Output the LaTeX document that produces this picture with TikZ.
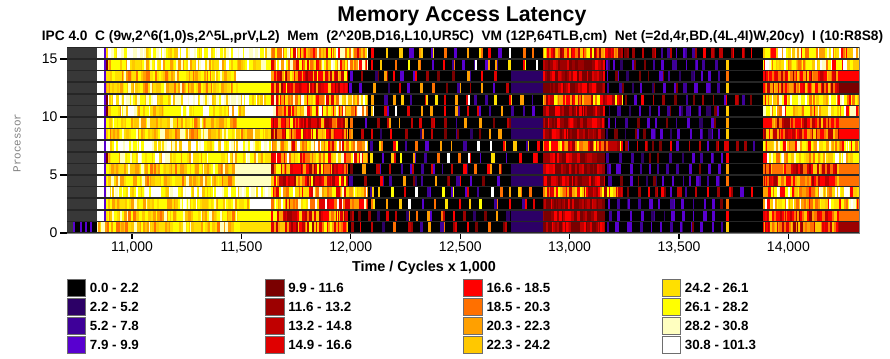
\documentclass[tikz,border=0pt]{standalone}
\usepackage{fontspec}
\setmainfont{Liberation Sans}
\newfontfamily\procfont{Liberation Mono}
\usetikzlibrary{positioning}

% latency colour scale
\definecolor{lat1}{HTML}{000000}
\definecolor{lat2}{HTML}{2C0066}
\definecolor{lat3}{HTML}{3E0099}
\definecolor{lat4}{HTML}{5800D0}
\definecolor{lat5}{HTML}{7A0000}
\definecolor{lat6}{HTML}{9C0000}
\definecolor{lat7}{HTML}{C00000}
\definecolor{lat8}{HTML}{E00000}
\definecolor{lat9}{HTML}{FF0000}
\definecolor{lat10}{HTML}{FF7000}
\definecolor{lat11}{HTML}{FFA000}
\definecolor{lat12}{HTML}{FFC800}
\definecolor{lat13}{HTML}{FFE000}
\definecolor{lat14}{HTML}{FFFF00}
\definecolor{lat15}{HTML}{FFFFC0}
\definecolor{lat16}{HTML}{FFFFFF}
\definecolor{gblock}{HTML}{383838}
\definecolor{sepgray}{HTML}{262626}
\definecolor{axisgray}{HTML}{7F7F7F}
\definecolor{keyedge}{HTML}{6E6E6E}

\pgfmathdeclarerandomlist{lightY}{{lat16}{lat16}{lat16}{lat15}{lat15}{lat14}{lat14}{lat13}{lat12}}
\pgfmathdeclarerandomlist{midY}{{lat16}{lat15}{lat14}{lat14}{lat14}{lat13}{lat13}{lat12}{lat11}}
\pgfmathdeclarerandomlist{satY}{{lat14}{lat14}{lat13}{lat13}{lat12}{lat12}{lat11}{lat11}{lat15}{lat10}}
\pgfmathdeclarerandomlist{yelMix}{{lat14}{lat13}{lat12}{lat11}{lat10}{lat10}{lat9}{lat16}{lat15}{lat8}}
\pgfmathdeclarerandomlist{redMix}{{lat9}{lat9}{lat8}{lat8}{lat7}{lat6}{lat10}{lat11}{lat12}{lat14}}
\pgfmathdeclarerandomlist{hotMix}{{lat9}{lat9}{lat8}{lat7}{lat10}{lat11}{lat6}{lat14}{lat12}}
\pgfmathdeclarerandomlist{darkMix}{{lat5}{lat5}{lat5}{lat6}{lat6}{lat7}{lat8}{lat9}}
\pgfmathdeclarerandomlist{barY}{{lat10}{lat11}{lat12}{lat14}{lat16}{lat3}{lat4}{lat9}{lat8}{lat13}}
\pgfmathdeclarerandomlist{barR}{{lat9}{lat8}{lat7}{lat6}{lat5}{lat3}{lat4}{lat10}{lat11}{lat2}}
\pgfmathdeclarerandomlist{barHot}{{lat5}{lat6}{lat7}{lat8}{lat9}{lat3}{lat4}{lat6}}
\pgfmathdeclarerandomlist{barCool}{{lat3}{lat4}{lat4}{lat4}{lat2}{lat3}{lat5}}
\pgfmathdeclarerandomlist{endHot}{{lat10}{lat11}{lat9}{lat12}}
\pgfmathdeclarerandomlist{lateY}{{lat14}{lat14}{lat13}{lat12}{lat11}{lat10}{lat16}{lat15}{lat9}}
\pgfmathdeclarerandomlist{lateR}{{lat9}{lat9}{lat8}{lat7}{lat10}{lat10}{lat11}{lat12}{lat6}}

% one processor row: solid piece, random stripes, black with bars
\newcommand\rowsolid[4]{%
  \pgfmathsetmacro\bandtop{233-(#1+1)*11.6+0.8}%
  \pgfmathsetmacro\bandbot{233-#1*11.6-0.8}%
  \fill[#4] (#2,\bandtop) rectangle (#3,\bandbot);}
\newcommand\rowband[4]{%
  \pgfmathsetmacro\bandtop{233-(#1+1)*11.6+0.8}%
  \pgfmathsetmacro\bandbot{233-#1*11.6-0.8}%
  \pgfmathsetmacro\bandx{#2}%
  \loop
    \pgfmathrandomitem\bandc{#4}%
    \pgfmathsetmacro\bandw{min(0.7+2.3*rnd,#3-\bandx)}%
    \fill[\bandc] (\bandx,\bandtop) rectangle ({\bandx+\bandw+0.25},\bandbot);
    \pgfmathsetmacro\bandx{\bandx+\bandw}%
  \ifdim\dimexpr\bandx pt+0.05pt<#3pt\repeat}
\newcommand\rowbars[5]{%
  \pgfmathsetmacro\bandtop{233-(#1+1)*11.6+0.8}%
  \pgfmathsetmacro\bandbot{233-#1*11.6-0.8}%
  \fill[black] (#2,\bandtop) rectangle (#3,\bandbot);
  \pgfmathsetmacro\bandx{#2+1+3*rnd}%
  \loop
    \pgfmathrandomitem\bandc{#4}%
    \pgfmathsetmacro\bandw{1.5+2*rnd}%
    \fill[\bandc] (\bandx,\bandtop) rectangle ({min(\bandx+\bandw,#3)},\bandbot);
    \pgfmathsetmacro\bandp{rnd}%
    \ifdim\bandp pt<0.3pt
      \pgfmathrandomitem\bandd{#4}%
      \fill[\bandd] ({min(\bandx+\bandw,#3)},\bandtop) rectangle ({min(\bandx+\bandw+1.5,#3)},\bandbot);
    \fi
    \pgfmathsetmacro\bandx{\bandx+\bandw+#5*(0.6+0.8*rnd)}%
  \ifdim\dimexpr\bandx pt+3pt<#3pt\repeat}

\begin{document}
\begin{tikzpicture}[x=0.75pt, y=-0.75pt,
  ticklab/.style={font=\fontsize{10.5}{12}\selectfont, inner sep=1pt},
  legkey/.style={draw=keyedge, line width=0.8pt, minimum width=14pt, minimum height=13pt, inner sep=0pt},
  leglab/.style={font=\fontsize{10}{12}\selectfont\bfseries, inner sep=0.5pt, anchor=west}]
\useasboundingbox (0,0) rectangle (890,358);
\pgfmathsetseed{4711}

\node[font=\fontsize{16}{19}\selectfont\bfseries] (title) at (462,16) {Memory Access Latency};
\node[font=\fontsize{10.3}{12}\selectfont\bfseries] (subtitle) at (462.5,36.5) {IPC 4.0\ \ C (9w,2\textasciicircum6(1,0)s,2\textasciicircum5L,prV,L2)\ \ Mem\ \ (2\textasciicircum20B,D16,L10,UR5C)\ \ VM (12P,64TLB,cm)\ \ Net (=2d,4r,BD,(4L,4I)W,20cy)\ \ I (10:R8S8)};

% plot area
\fill[sepgray] (67,47) rectangle (859,233);
\foreach \r in {1,...,15}{\rowsolid{\r}{67}{97}{gblock}}
\foreach \r in {0,...,15}{\rowsolid{\r}{97}{103.5}{white}}

% light rows, hot at the end
\foreach \r in {15,11,7,3}{%
  \rowband{\r}{105}{271}{lightY}
  \rowband{\r}{271}{368}{yelMix}
  \rowbars{\r}{368}{543}{barY}{9}
  \rowband{\r}{543}{623}{hotMix}
  \rowbars{\r}{623}{757}{barHot}{7}
  \rowsolid{\r}{757}{763}{black}
  \rowband{\r}{763}{859}{lateY}
}
% light rows, dark in the middle
\foreach \r in {14,10,6,2}{%
  \rowband{\r}{105}{271}{midY}
  \rowband{\r}{271}{368}{yelMix}
  \rowbars{\r}{368}{543}{barY}{9}
  \rowband{\r}{543}{605}{darkMix}
  \rowbars{\r}{605}{724}{barCool}{7.5}
  \rowsolid{\r}{724}{763}{black}
  \pgfmathrandomitem\bandc{endHot}\rowsolid{\r}{726}{729}{\bandc}
  \rowband{\r}{763}{859}{lateY}
}
% red rows
\foreach \r in {13,12,9,8,5,4,1,0}{%
  \rowband{\r}{105}{271}{satY}
  \rowband{\r}{271}{348}{redMix}
  \rowbars{\r}{348}{511}{barR}{9}
  \rowsolid{\r}{511}{543}{lat2}
  \rowband{\r}{543}{605}{darkMix}
  \rowbars{\r}{605}{724}{barCool}{7.5}
  \rowsolid{\r}{724}{763}{black}
  \pgfmathrandomitem\bandc{endHot}\rowsolid{\r}{726}{729}{\bandc}
  \rowband{\r}{763}{859}{lateR}
}

% first miss on every row
\foreach \r in {15,13,12,9,8,7,5,4,3,2,1}{\rowsolid{\r}{103.5}{105.5}{lat4}}
\foreach \r in {14,11,10,6}{\rowsolid{\r}{103.5}{105.5}{lat4}\rowsolid{\r}{105.5}{107.5}{lat5}}
% processor 0 starts earlier
\rowsolid{0}{67}{73}{gblock}
\rowsolid{0}{73}{97}{black}
\foreach \x in {73,80,85,90}{\rowsolid{0}{\x}{\x+1.5}{lat4}}
\rowband{0}{97}{105}{satY}

% flat tails
\foreach \r/\xa/\c in {13/236/lat16, 12/238/lat14, 10/245/lat16, 9/238/lat14, 5/235/lat15, 4/235/lat15, 2/250/lat16, 1/238/lat14, 0/240/lat13}{\rowsolid{\r}{\xa}{271}{\c}}
\foreach \r/\c in {13/lat9, 12/lat5, 9/lat10, 8/lat9, 5/lat10, 4/lat10, 1/lat10, 0/lat6}{\rowsolid{\r}{839}{859}{\c}}

% axes
\draw[axisgray, line width=1pt] (67,233.5) -- (859.5,233.5) -- (859.5,47);
\foreach \v in {0,5,10,15}{%
  \draw[line width=0.8pt] (60,{233-\v*11.6}) -- (67,{233-\v*11.6});
  \node[ticklab, anchor=east] (yt\v) at (59,{233-\v*11.6}) {\v};
}
\foreach \t/\lab in {11000/{11,000}, 11500/{11,500}, 12000/{12,000}, 12500/{12,500}, 13000/{13,000}, 13500/{13,500}, 14000/{14,000}}{%
  \draw[line width=0.8pt] ({132+(\t-11000)*0.2188},233.5) -- ({132+(\t-11000)*0.2188},238.5);
  \node[ticklab, anchor=north] (xt\t) at ({132+(\t-11000)*0.2188},240) {\lab};
}
\node[font=\fontsize{10.8}{12}\selectfont\bfseries] (xlabel) at (424,268) {Time / Cycles x 1,000};
\node[rotate=90, font=\procfont\fontsize{8.2}{10}\selectfont, text=gray] (ylabel) at (17,143) {Processor};

% legend
\foreach \c/\t [count=\i from 0] in {lat1/0.0 - 2.2, lat2/2.2 - 5.2, lat3/5.2 - 7.8, lat4/7.9 - 9.9,
    lat5/9.9 - 11.6, lat6/11.6 - 13.2, lat7/13.2 - 14.8, lat8/14.9 - 16.6,
    lat9/16.6 - 18.5, lat10/18.5 - 20.3, lat11/20.3 - 22.3, lat12/22.3 - 24.2,
    lat13/24.2 - 26.1, lat14/26.1 - 28.2, lat15/28.2 - 30.8, lat16/30.8 - 101.3}{%
  \pgfmathtruncatemacro\col{\i/4}
  \pgfmathtruncatemacro\row{mod(\i,4)}
  \node[legkey, fill=\c] (key\i) at ({76.5+\col*198.3},{288+\row*19}) {};
  \node[leglab, right=2pt of key\i] (lab\i) {\t};
}
\end{tikzpicture}
\end{document}
